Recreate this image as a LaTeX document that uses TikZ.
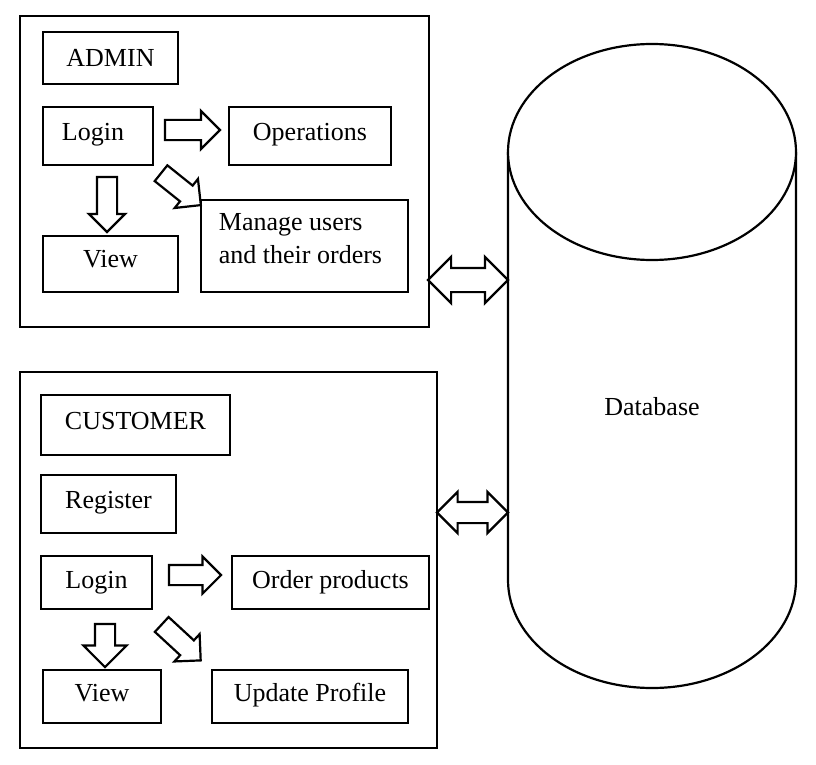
\documentclass[tikz,border=0pt]{standalone}
\usepackage{fontspec}
\setmainfont{Liberation Serif}
\usetikzlibrary{shapes.arrows}
\begin{document}
\begin{tikzpicture}[x=1pt,y=-1pt,
  lw/.style={line width=2.2pt},
  box/.style={draw, lw, inner sep=0pt, font=\fontsize{26}{33}\selectfont, align=center},
  frame/.style={draw, lw, inner sep=0pt},
  sarrow/.style={single arrow, draw, lw, fill=white, inner xsep=0pt, single arrow head indent=0pt},
  darrow/.style={double arrow, draw, lw, fill=white, inner xsep=0pt}]
\useasboundingbox (0,0) rectangle (816,765);

% ADMIN group
\node[frame, minimum width=409pt, minimum height=311pt] (admin) at (224.5,171.5) {};
\node[box, minimum width=135pt, minimum height=52pt] (adminlbl) at (110.5,58) {ADMIN};
\node[box, minimum width=110pt, minimum height=58pt, text depth=9pt] (alogin) at (98,136) {\hspace*{-10pt}Login};
\node[box, minimum width=162pt, minimum height=58pt, text depth=9pt] (aops) at (310,136) {Operations};
\node[box, minimum width=135pt, minimum height=56pt, text depth=10pt] (aview) at (110.5,264) {View};
\node[box, minimum width=207pt, minimum height=92pt, align=left, text depth=15pt] (amanage) at (304.5,246) {Manage users\\and their orders\hspace*{8pt}};

\node[sarrow, inner ysep=9pt, single arrow head extend=9pt, minimum height=55pt] (a1) at (187.5,130) {};
\node[sarrow, inner ysep=9pt, single arrow head extend=8pt, minimum height=55pt, rotate=-90] (a2) at (107,199.5) {};
\node[sarrow, inner ysep=9pt, single arrow head extend=8.5pt, minimum height=51pt, rotate=-38.7] (a3) at (177,186) {};

% CUSTOMER group
\node[frame, minimum width=417pt, minimum height=376pt] (cust) at (228.5,560) {};
\node[box, minimum width=189pt, minimum height=60pt, text depth=9pt] (custlbl) at (135.5,425) {CUSTOMER};
\node[box, minimum width=135pt, minimum height=58pt, text depth=9pt] (creg) at (108.5,504) {Register};
\node[box, minimum width=111pt, minimum height=53pt] (clogin) at (96.5,582.5) {Login};
\node[box, minimum width=197pt, minimum height=53pt] (corder) at (330.5,582.5) {Order products};
\node[box, minimum width=118pt, minimum height=53pt, text depth=8pt] (cview) at (102,696.5) {View};
\node[box, minimum width=196pt, minimum height=53pt, text depth=8pt] (cupd) at (310,696.5) {Update Profile};

\node[sarrow, inner ysep=9pt, single arrow head extend=8.5pt, minimum height=52pt] (c1) at (190,575) {};
\node[sarrow, inner ysep=9pt, single arrow head extend=11.5pt, minimum height=43pt, rotate=-90] (c2) at (105,640.5) {};
\node[sarrow, inner ysep=9pt, single arrow head extend=8.5pt, minimum height=53pt, rotate=-42.7] (c3) at (177.5,639) {};

% Database cylinder
\draw[lw] (508,152) -- (508,580) arc[start angle=180, end angle=360, x radius=144, y radius=-108] -- (796,152);
\draw[lw, fill=white] (652,152) ellipse[x radius=144, y radius=108];
\node[font=\fontsize{26}{33}\selectfont] (db) at (652,407) {Database};
\coordinate (dbleft) at (508,280);

% Double arrows
\node[darrow, inner ysep=11pt, double arrow head extend=11pt, minimum height=80pt] (d1) at (468,280) {};
\node[darrow, inner ysep=9.5pt, double arrow head extend=10pt, minimum height=71pt] (d2) at (472.5,512.5) {};
\end{tikzpicture}
\end{document}
